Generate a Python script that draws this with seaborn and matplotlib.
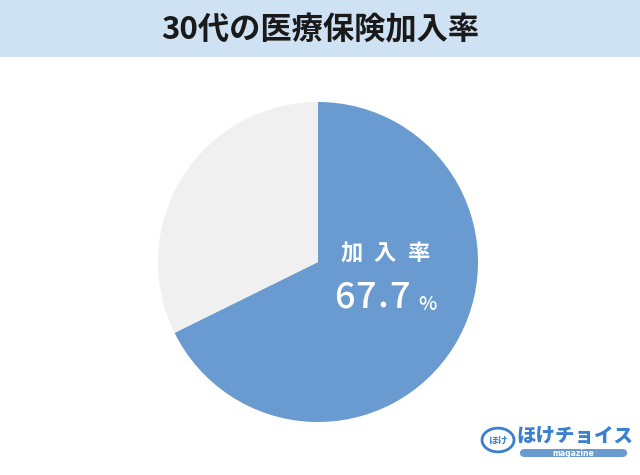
import matplotlib.pyplot as plt
import matplotlib.patches as mpatches
import seaborn as sns

# data
labels = ["加入", "未加入"]
values = [67.7, 32.3]
colors = ["#6a9bd0", "#f0f0f0"]
title = "30代の医療保険加入率"
center_label = "加入率"
center_value = "67.7"

sns.set_theme(style="white")
plt.rcParams['font.family'] = ['Noto Sans CJK JP', 'DejaVu Sans']

W, H = 640, 475
fig = plt.figure(figsize=(W / 100, H / 100), dpi=100)
fig.patch.set_facecolor("white")


def px(x, y):
    # pixel coords (from top-left) to figure fraction
    return x / W, 1 - y / H


# title band
band = fig.add_axes([0, 1 - 57 / H, 1, 57 / H])
band.set_facecolor("#cfe2f3")
band.set_xticks([])
band.set_yticks([])
for s in band.spines.values():
    s.set_visible(False)
band.text(0.5, 0.47, title, ha="center", va="center", fontsize=22.5,
          fontweight="bold", color="#1a1a1a")

# pie
cx, cy, r = 318, 262, 160
ax = fig.add_axes([(cx - r) / W, (H - cy - r) / H, 2 * r / W, 2 * r / H])
ax.pie(values, colors=colors, startangle=90, counterclock=False, radius=1,
       wedgeprops=dict(linewidth=0))
ax.set_xlim(-1, 1)
ax.set_ylim(-1, 1)
ax.axis("off")

# centre label, spaced out letter by letter
for ch, x in zip(center_label, [352, 385, 418]):
    fig.text(*px(x, 254), ch, ha="center", va="center",
             fontsize=16, fontweight="bold", color="white")
for ch, x in zip(center_value, [344, 366, 383, 400]):
    fig.text(*px(x, 298), ch, ha="center", va="center",
             fontsize=26, fontweight="medium", color="white")
fig.text(*px(427, 304), "%", ha="center", va="center",
         fontsize=14, fontweight="medium", color="white")

# logo
logo_blue = "#3a7fd0"
fig.text(*px(575, 437), "ほけチョイス", ha="center", va="center",
         fontsize=14, fontweight="black", color=logo_blue)
pill = mpatches.FancyBboxPatch(px(520, 457), 107 / W, 8 / H,
                               boxstyle="round,pad=0,rounding_size=0.008",
                               transform=fig.transFigure, facecolor="#6a9bd0",
                               edgecolor="none")
fig.patches.append(pill)
fig.text(*px(573, 453), "magazine", ha="center", va="center",
         fontsize=5.5, fontweight="bold", color="white", family="DejaVu Sans")
circ = mpatches.Circle(px(498, 440), 16 / W, transform=fig.transFigure,
                       facecolor="white", edgecolor=logo_blue, linewidth=2)
fig.patches.append(circ)
fig.text(*px(498, 441), "ほけ", ha="center", va="center",
         fontsize=7, fontweight="bold", color=logo_blue)

fig.savefig("out.png", dpi=100)
